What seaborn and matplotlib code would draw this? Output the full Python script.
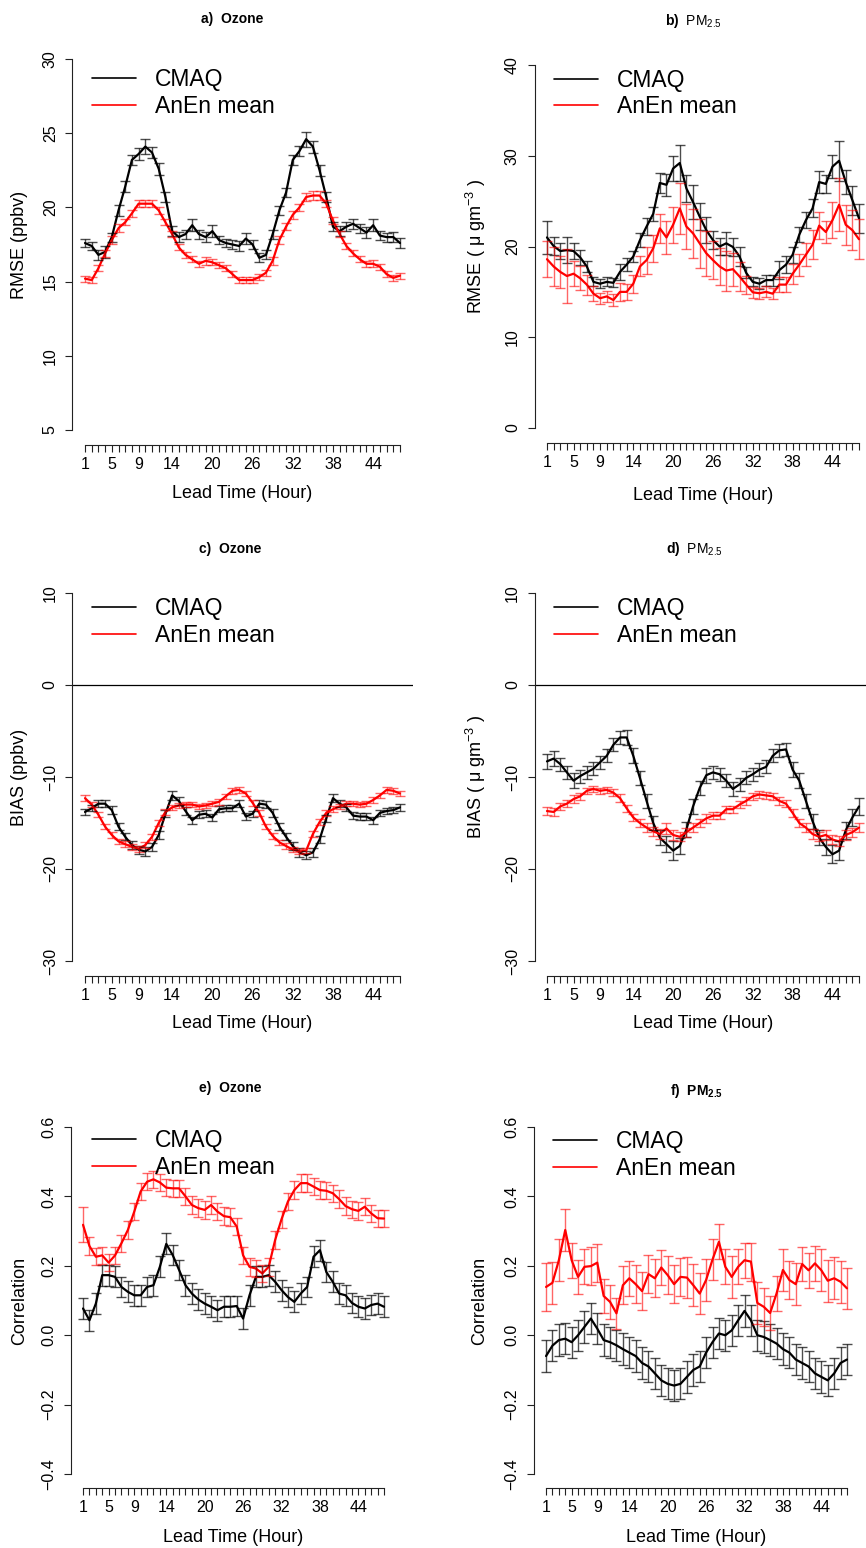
import matplotlib.pyplot as plt
import numpy as np
import pandas as pd
import seaborn as sns


lead_hours = list(range(1, 49))
labelled_hours = [1, 5, 9, 14, 20, 26, 32, 38, 44]
series_names = ["CMAQ", "AnEn mean"]
series_colors = {"CMAQ": "black", "AnEn mean": "red"}

# a) Ozone RMSE (ppbv)
ozone_rmse_cmaq = [17.6, 17.4, 16.8, 17.0, 18.0, 19.8, 21.4, 23.2, 23.6, 24.1, 23.7, 22.6,
                   20.7, 18.4, 18.0, 18.2, 18.8, 18.2, 18.0, 18.4, 17.8, 17.6, 17.5, 17.4,
                   17.9, 17.5, 16.6, 16.8, 18.2, 19.8, 21.0, 23.2, 23.8, 24.6, 24.1, 22.5,
                   20.7, 18.7, 18.4, 18.7, 18.9, 18.6, 18.3, 18.8, 18.1, 18.0, 18.0, 17.6]
ozone_rmse_cmaq_err = [0.3, 0.3, 0.35, 0.4, 0.3, 0.35, 0.35, 0.35, 0.4, 0.5, 0.4, 0.4,
                       0.35, 0.35, 0.35, 0.3, 0.4, 0.3, 0.35, 0.4, 0.3, 0.3, 0.3, 0.35,
                       0.35, 0.3, 0.3, 0.3, 0.3, 0.3, 0.3, 0.35, 0.35, 0.5, 0.4, 0.35,
                       0.35, 0.3, 0.35, 0.3, 0.35, 0.3, 0.35, 0.4, 0.3, 0.3, 0.35, 0.35]
ozone_rmse_anen = [15.2, 15.1, 15.9, 16.9, 17.8, 18.6, 19.0, 19.6, 20.25, 20.25, 20.25, 19.8,
                   19.0, 18.2, 17.3, 16.8, 16.5, 16.2, 16.4, 16.3, 16.1, 15.9, 15.5, 15.1,
                   15.1, 15.1, 15.3, 15.6, 16.4, 17.8, 18.7, 19.5, 20.0, 20.7, 20.8, 20.8,
                   20.25, 19.1, 18.2, 17.4, 16.9, 16.5, 16.2, 16.2, 16.0, 15.5, 15.25, 15.4]
ozone_rmse_anen_err = [0.2, 0.2, 0.2, 0.25, 0.25, 0.25, 0.2, 0.25, 0.25, 0.25, 0.25, 0.25,
                       0.2, 0.2, 0.2, 0.2, 0.2, 0.2, 0.25, 0.2, 0.2, 0.2, 0.2, 0.2,
                       0.2, 0.2, 0.2, 0.2, 0.25, 0.25, 0.25, 0.25, 0.25, 0.3, 0.3, 0.3,
                       0.25, 0.25, 0.2, 0.2, 0.2, 0.2, 0.2, 0.25, 0.2, 0.2, 0.2, 0.2]

# b) PM2.5 RMSE (ug m-3)
pm_rmse_cmaq = [21.0, 20.05, 19.5, 19.6, 19.5, 18.8, 17.8, 16.1, 15.9, 16.1, 16.0, 17.2,
                18.0, 18.9, 20.7, 22.2, 23.6, 27.0, 26.8, 28.6, 29.2, 26.4, 24.9, 23.3,
                21.8, 20.7, 20.0, 20.35, 19.95, 18.9, 17.1, 16.1, 15.9, 16.3, 16.3, 17.4,
                18.0, 19.1, 21.3, 22.9, 24.2, 27.1, 26.9, 28.8, 29.45, 27.1, 25.1, 23.1]
pm_rmse_cmaq_err = [1.8, 1.0, 0.9, 1.4, 0.9, 0.8, 0.6, 0.5, 0.5, 0.5, 0.5, 0.9,
                    0.7, 0.6, 0.8, 0.9, 0.8, 1.1, 1.2, 1.4, 2.0, 1.5, 1.9, 1.5,
                    1.4, 1.0, 0.9, 1.3, 1.0, 1.0, 0.6, 0.5, 0.6, 0.6, 0.6, 1.0,
                    0.9, 0.9, 0.8, 0.9, 1.0, 1.2, 1.0, 1.3, 2.2, 1.3, 1.6, 1.6]
pm_rmse_anen = [18.6, 17.8, 17.2, 16.75, 17.0, 16.5, 15.8, 14.8, 14.3, 14.5, 14.1, 15.0,
                15.0, 15.9, 17.8, 18.5, 19.8, 22.0, 21.0, 22.4, 24.2, 22.2, 21.45, 20.35,
                19.25, 18.5, 17.8, 17.35, 17.5, 16.7, 15.8, 14.95, 14.85, 15.0, 14.8, 15.8,
                15.8, 17.0, 18.0, 19.1, 20.2, 22.3, 21.6, 22.9, 24.6, 22.4, 21.8, 20.8]
pm_rmse_anen_err = [2.0, 2.2, 1.8, 3.0, 1.4, 1.3, 1.1, 0.8, 0.6, 0.6, 0.7, 1.0,
                    0.9, 1.0, 1.1, 1.5, 1.5, 1.6, 1.8, 2.0, 2.8, 2.5, 2.7, 2.7,
                    2.5, 2.1, 2.0, 2.2, 1.8, 1.6, 1.0, 0.6, 0.6, 0.6, 0.6, 0.8,
                    0.8, 1.1, 1.2, 1.3, 1.6, 1.5, 1.2, 2.0, 2.9, 2.2, 2.2, 2.2]

# c) Ozone BIAS (ppbv)
ozone_bias_cmaq = [-13.8, -13.4, -12.9, -12.9, -13.6, -15.4, -16.5, -17.4, -17.9, -18.1, -17.6, -16.3,
                   -14.0, -12.0, -12.6, -13.7, -14.7, -14.1, -14.0, -14.4, -13.5, -13.4, -13.4, -12.9,
                   -14.3, -14.0, -12.9, -13.0, -13.9, -15.4, -16.5, -17.5, -18.2, -18.5, -18.2, -16.8,
                   -14.5, -12.3, -12.9, -13.3, -14.2, -14.3, -14.3, -14.7, -13.9, -13.7, -13.6, -13.3]
ozone_bias_cmaq_err = [0.35, 0.35, 0.35, 0.4, 0.4, 0.4, 0.4, 0.4, 0.45, 0.5, 0.45, 0.4,
                       0.4, 0.45, 0.4, 0.4, 0.4, 0.35, 0.4, 0.4, 0.35, 0.35, 0.35, 0.4,
                       0.35, 0.35, 0.35, 0.4, 0.4, 0.4, 0.4, 0.4, 0.45, 0.45, 0.45, 0.4,
                       0.4, 0.45, 0.4, 0.4, 0.4, 0.4, 0.4, 0.4, 0.35, 0.35, 0.35, 0.35]
ozone_bias_anen = [-12.3, -13.0, -14.1, -15.4, -16.3, -17.0, -17.3, -17.6, -17.8, -17.4, -16.5, -15.0,
                   -13.8, -13.3, -13.1, -13.0, -13.0, -13.2, -13.1, -12.9, -12.7, -12.1, -11.5, -11.4,
                   -11.8, -12.8, -13.9, -15.4, -16.4, -17.1, -17.5, -17.9, -18.1, -18.0, -16.2, -14.9,
                   -13.9, -13.5, -13.2, -12.9, -12.9, -13.0, -12.9, -12.5, -12.0, -11.4, -11.5, -11.8]
ozone_bias_anen_err = [0.3, 0.3, 0.3, 0.3, 0.3, 0.3, 0.3, 0.3, 0.3, 0.3, 0.3, 0.3,
                       0.3, 0.3, 0.3, 0.3, 0.3, 0.3, 0.3, 0.3, 0.3, 0.3, 0.35, 0.35,
                       0.3, 0.3, 0.3, 0.3, 0.3, 0.3, 0.3, 0.3, 0.3, 0.3, 0.3, 0.3,
                       0.3, 0.3, 0.3, 0.3, 0.3, 0.3, 0.3, 0.3, 0.3, 0.3, 0.3, 0.3]

# d) PM2.5 BIAS (ug m-3)
pm_bias_cmaq = [-8.3, -8.0, -8.6, -9.5, -10.4, -9.9, -9.5, -9.1, -8.4, -7.7, -6.5, -5.7,
                -5.7, -7.7, -10.1, -12.6, -15.0, -16.6, -17.3, -18.0, -17.5, -15.7, -13.2, -11.2,
                -9.8, -9.5, -9.7, -10.4, -11.3, -10.8, -10.1, -9.7, -9.2, -8.9, -7.7, -7.1,
                -7.0, -9.2, -10.4, -12.6, -14.8, -16.6, -17.6, -18.4, -18.0, -15.8, -14.4, -13.2]
pm_bias_cmaq_err = [0.8, 0.8, 0.7, 0.7, 0.8, 0.7, 0.7, 0.7, 0.7, 0.7, 0.7, 0.7,
                    0.8, 0.8, 0.8, 0.8, 0.8, 0.8, 0.9, 1.0, 0.9, 0.8, 0.8, 0.8,
                    0.8, 0.7, 0.7, 0.7, 0.8, 0.7, 0.7, 0.7, 0.7, 0.7, 0.7, 0.7,
                    0.7, 0.8, 0.8, 0.8, 0.8, 0.8, 0.9, 1.0, 1.0, 0.9, 0.9, 0.9]
pm_bias_anen = [-13.7, -13.8, -13.2, -12.9, -12.4, -12.1, -11.5, -11.3, -11.5, -11.4, -11.7, -12.3,
                -13.4, -14.4, -15.0, -15.5, -15.9, -16.2, -15.6, -16.3, -16.5, -16.0, -15.5, -15.0,
                -14.5, -14.2, -14.2, -13.5, -13.5, -13.0, -12.6, -12.1, -11.9, -12.0, -12.1, -12.6,
                -12.9, -13.9, -15.0, -15.5, -16.2, -16.5, -16.3, -16.8, -17.0, -16.3, -16.0, -15.5]
pm_bias_anen_err = [0.4, 0.4, 0.4, 0.4, 0.4, 0.4, 0.35, 0.35, 0.35, 0.35, 0.35, 0.4,
                    0.4, 0.4, 0.4, 0.45, 0.5, 0.5, 0.6, 0.5, 0.5, 0.5, 0.45, 0.45,
                    0.45, 0.4, 0.4, 0.4, 0.4, 0.4, 0.4, 0.35, 0.35, 0.35, 0.35, 0.4,
                    0.4, 0.4, 0.45, 0.45, 0.5, 0.5, 0.5, 0.5, 0.55, 0.5, 0.5, 0.5]

# e) Ozone correlation
ozone_corr_cmaq = [0.077, 0.043, 0.091, 0.173, 0.173, 0.168, 0.139, 0.125, 0.115, 0.115, 0.139, 0.144,
                   0.197, 0.263, 0.231, 0.188, 0.144, 0.12, 0.103, 0.091, 0.082, 0.072, 0.082, 0.082,
                   0.084, 0.048, 0.115, 0.168, 0.168, 0.173, 0.154, 0.13, 0.11, 0.096, 0.12, 0.139,
                   0.226, 0.245, 0.182, 0.154, 0.12, 0.115, 0.093, 0.082, 0.077, 0.087, 0.091, 0.082]
ozone_corr_cmaq_err = [0.03, 0.03, 0.03, 0.03, 0.03, 0.03, 0.03, 0.03, 0.03, 0.03, 0.03, 0.03,
                       0.03, 0.03, 0.03, 0.03, 0.03, 0.03, 0.03, 0.03, 0.03, 0.03, 0.03, 0.03,
                       0.03, 0.03, 0.03, 0.03, 0.03, 0.03, 0.03, 0.03, 0.03, 0.03, 0.03, 0.03,
                       0.03, 0.03, 0.03, 0.03, 0.03, 0.03, 0.03, 0.03, 0.03, 0.03, 0.03, 0.03]
ozone_corr_anen = [0.318, 0.257, 0.226, 0.23, 0.209, 0.23, 0.265, 0.303, 0.356, 0.414, 0.442, 0.449,
                   0.44, 0.425, 0.423, 0.423, 0.40, 0.375, 0.366, 0.361, 0.375, 0.356, 0.343, 0.34,
                   0.313, 0.23, 0.197, 0.192, 0.178, 0.197, 0.274, 0.334, 0.385, 0.418, 0.438, 0.438,
                   0.428, 0.418, 0.416, 0.409, 0.392, 0.372, 0.363, 0.358, 0.37, 0.351, 0.337, 0.336]
ozone_corr_anen_err = [0.05, 0.025, 0.025, 0.025, 0.025, 0.025, 0.025, 0.025, 0.025, 0.025, 0.025, 0.025,
                       0.025, 0.025, 0.025, 0.025, 0.025, 0.025, 0.025, 0.025, 0.025, 0.025, 0.025, 0.025,
                       0.025, 0.025, 0.025, 0.025, 0.025, 0.025, 0.025, 0.025, 0.025, 0.025, 0.025, 0.025,
                       0.025, 0.025, 0.025, 0.025, 0.025, 0.025, 0.025, 0.025, 0.025, 0.025, 0.025, 0.025]

# f) PM2.5 correlation
pm_corr_cmaq = [-0.06, -0.03, -0.014, -0.01, -0.02, 0.0, 0.024, 0.048, 0.019, -0.014, -0.02, -0.029,
                -0.04, -0.05, -0.06, -0.08, -0.09, -0.11, -0.13, -0.14, -0.145, -0.14, -0.12, -0.10,
                -0.09, -0.05, -0.02, 0.005, 0.0, 0.014, 0.043, 0.07, 0.043, 0.0, -0.005, -0.014,
                -0.024, -0.04, -0.05, -0.07, -0.08, -0.09, -0.11, -0.12, -0.13, -0.11, -0.08, -0.07]
pm_corr_cmaq_err = [0.045, 0.045, 0.045, 0.045, 0.045, 0.045, 0.045, 0.045, 0.045, 0.045, 0.045, 0.045,
                    0.045, 0.045, 0.045, 0.045, 0.045, 0.045, 0.045, 0.045, 0.045, 0.045, 0.045, 0.045,
                    0.045, 0.045, 0.045, 0.045, 0.045, 0.045, 0.045, 0.045, 0.045, 0.045, 0.045, 0.045,
                    0.045, 0.045, 0.045, 0.045, 0.045, 0.045, 0.045, 0.045, 0.045, 0.045, 0.045, 0.045]
pm_corr_anen = [0.139, 0.151, 0.216, 0.303, 0.216, 0.168, 0.197, 0.199, 0.209, 0.113, 0.096, 0.063,
                0.144, 0.164, 0.147, 0.127, 0.176, 0.164, 0.195, 0.173, 0.147, 0.168, 0.166, 0.144,
                0.12, 0.159, 0.218, 0.269, 0.197, 0.168, 0.197, 0.216, 0.212, 0.093, 0.082, 0.064,
                0.12, 0.188, 0.159, 0.147, 0.205, 0.187, 0.207, 0.187, 0.157, 0.164, 0.154, 0.135]
pm_corr_anen_err = [0.07, 0.06, 0.06, 0.06, 0.05, 0.05, 0.05, 0.055, 0.055, 0.05, 0.05, 0.045,
                    0.055, 0.05, 0.055, 0.055, 0.055, 0.055, 0.05, 0.055, 0.055, 0.055, 0.06, 0.06,
                    0.06, 0.06, 0.06, 0.05, 0.05, 0.06, 0.05, 0.05, 0.055, 0.06, 0.055, 0.05,
                    0.05, 0.06, 0.055, 0.06, 0.05, 0.05, 0.05, 0.06, 0.06, 0.06, 0.06, 0.06]

rmse_ozone_ticks = [5, 10, 15, 20, 25, 30]
rmse_pm_ticks = [0, 10, 20, 30, 40]
bias_ticks = [-30, -20, -10, 0, 10]
bias_tick_labels = ["\u221230", "\u221220", "\u221210", "0", "10"]
corr_ticks = [-0.4, -0.2, 0.0, 0.2, 0.4, 0.6]
corr_tick_labels = ["\u22120.4", "\u22120.2", "0.0", "0.2", "0.4", "0.6"]

sns.set_style("ticks")
plt.rcParams["font.family"] = ["Liberation Sans", "DejaVu Sans"]
plt.rcParams["mathtext.fontset"] = "custom"
plt.rcParams["mathtext.rm"] = "Liberation Sans"
plt.rcParams["mathtext.it"] = "Liberation Sans:italic"
plt.rcParams["mathtext.bf"] = "Liberation Sans:bold"
for key in ("text.color", "axes.labelcolor", "xtick.color", "ytick.color", "axes.edgecolor"):
    plt.rcParams[key] = "black"

W, H = 866, 1548


def draw_panel(fig, box, cmaq, cmaq_err, anen, anen_err, yticks, ylabel, title,
               title_x, title_pad, ylabel_x, xlabel_y, legend_xy, ytick_labels=None,
               zero_line=False):
    left, top, right, bottom = box
    ax = fig.add_axes([left / W, 1 - bottom / H, (right - left) / W, (bottom - top) / H])

    df = pd.DataFrame({
        "hour": lead_hours * 2,
        "value": cmaq + anen,
        "model": ["CMAQ"] * len(cmaq) + ["AnEn mean"] * len(anen),
    })
    if zero_line:
        ax.axhline(0, color="black", linewidth=0.9)
    sns.lineplot(data=df, x="hour", y="value", hue="model", hue_order=series_names,
                 palette=series_colors, linewidth=1.6, ax=ax)
    ax.errorbar(lead_hours, cmaq, yerr=cmaq_err, fmt="none", ecolor=(0, 0, 0, 0.7),
                elinewidth=1.0, capsize=3.5, capthick=1.0)
    ax.errorbar(lead_hours, anen, yerr=anen_err, fmt="none", ecolor=(1, 0, 0, 0.6),
                elinewidth=1.0, capsize=3.5, capthick=1.0)

    span_y = yticks[-1] - yticks[0]
    ax.set_xlim(1 - 47 * 0.04, 48 + 47 * 0.04)
    ax.set_ylim(yticks[0] - span_y * 0.04, yticks[-1] + span_y * 0.04)

    sns.despine(ax=ax)
    ax.spines["left"].set_bounds(yticks[0], yticks[-1])
    ax.spines["bottom"].set_bounds(1, 48)
    for side in ("left", "bottom"):
        ax.spines[side].set_linewidth(0.8)
        ax.spines[side].set_color("#222222")

    ax.set_xticks(lead_hours)
    ax.set_xticklabels([str(h) if h in labelled_hours else "" for h in lead_hours])
    ax.set_yticks(yticks)
    ax.set_yticklabels(ytick_labels if ytick_labels else [str(t) for t in yticks])
    ax.tick_params(axis="both", direction="out", length=5, width=0.8, color="#222222",
                   labelsize=11.5, labelcolor="black")
    ax.tick_params(axis="x", pad=4)
    ax.tick_params(axis="y", labelrotation=90, pad=5.5)
    for lbl in ax.get_yticklabels():
        lbl.set_va("center")

    ax.set_xlabel("Lead Time (Hour)", fontsize=13, color="black")
    ax.xaxis.set_label_coords(0.5, xlabel_y)
    ax.xaxis.label.set_va("top")
    ax.set_ylabel(ylabel, fontsize=13, color="black")
    ax.yaxis.set_label_coords(ylabel_x, 0.5)

    weight = "bold" if "$" not in title else "normal"
    ax.set_title(title, x=title_x, pad=title_pad, fontsize=10, fontweight=weight,
                 color="black")

    sns.move_legend(ax, "upper left", bbox_to_anchor=legend_xy, frameon=False, title=None,
                    fontsize=16.5, handlelength=1.9, handletextpad=0.85, labelspacing=0.15,
                    borderpad=0, borderaxespad=0)
    leg = ax.get_legend()
    for line in leg.get_lines():
        line.set_linewidth(1.2)
    for txt in leg.get_texts():
        txt.set_color("black")
    return ax


fig = plt.figure(figsize=(W / 100, H / 100), dpi=100)

pm_unit = "( \u03bc gm$^{-3}$ )"

draw_panel(fig, (72.4, 44.2, 412.6, 444.8), ozone_rmse_cmaq, ozone_rmse_cmaq_err,
           ozone_rmse_anen, ozone_rmse_anen_err, rmse_ozone_ticks, "RMSE (ppbv)",
           "a)  Ozone", 0.47, 15.3, -0.1305, -0.1, (0.0576, 0.940))
draw_panel(fig, (534.5, 50.5, 871.5, 442.5), pm_rmse_cmaq, pm_rmse_cmaq_err,
           pm_rmse_anen, pm_rmse_anen_err, rmse_pm_ticks, "RMSE " + pm_unit,
           r"$\mathbf{b)}\ \ \mathrm{PM}_{2.5}$", 0.473, 18.4, -0.138, -0.1135, (0.058, 0.954))
draw_panel(fig, (72.4, 578.3, 412.6, 975.7), ozone_bias_cmaq, ozone_bias_cmaq_err,
           ozone_bias_anen, ozone_bias_anen_err, bias_ticks, "BIAS (ppbv)",
           "c)  Ozone", 0.464, 18.2, -0.1305, -0.099, (0.0576, 0.952), zero_line=True,
           ytick_labels=bias_tick_labels)
draw_panel(fig, (534.5, 578.3, 871.5, 975.7), pm_bias_cmaq, pm_bias_cmaq_err,
           pm_bias_anen, pm_bias_anen_err, bias_ticks, "BIAS " + pm_unit,
           r"$\mathbf{d)}\ \ \mathrm{PM}_{2.5}$", 0.476, 18.2, -0.138, -0.099, (0.058, 0.952),
           zero_line=True, ytick_labels=bias_tick_labels)
draw_panel(fig, (71, 1113, 396, 1488), ozone_corr_cmaq, ozone_corr_cmaq_err,
           ozone_corr_anen, ozone_corr_anen_err, corr_ticks, "Correlation",
           "e)  Ozone", 0.489, 15.1, -0.132, -0.109, (0.0646, 0.956),
           ytick_labels=corr_tick_labels)
draw_panel(fig, (534, 1113, 859, 1488), pm_corr_cmaq, pm_corr_cmaq_err,
           pm_corr_anen, pm_corr_anen_err, corr_ticks, "Correlation",
           r"$\mathbf{f)\ \ PM_{2.5}}$", 0.5, 13.0, -0.1415, -0.109, (0.0585, 0.954),
           ytick_labels=corr_tick_labels)

fig.savefig("out.png", dpi=100)
